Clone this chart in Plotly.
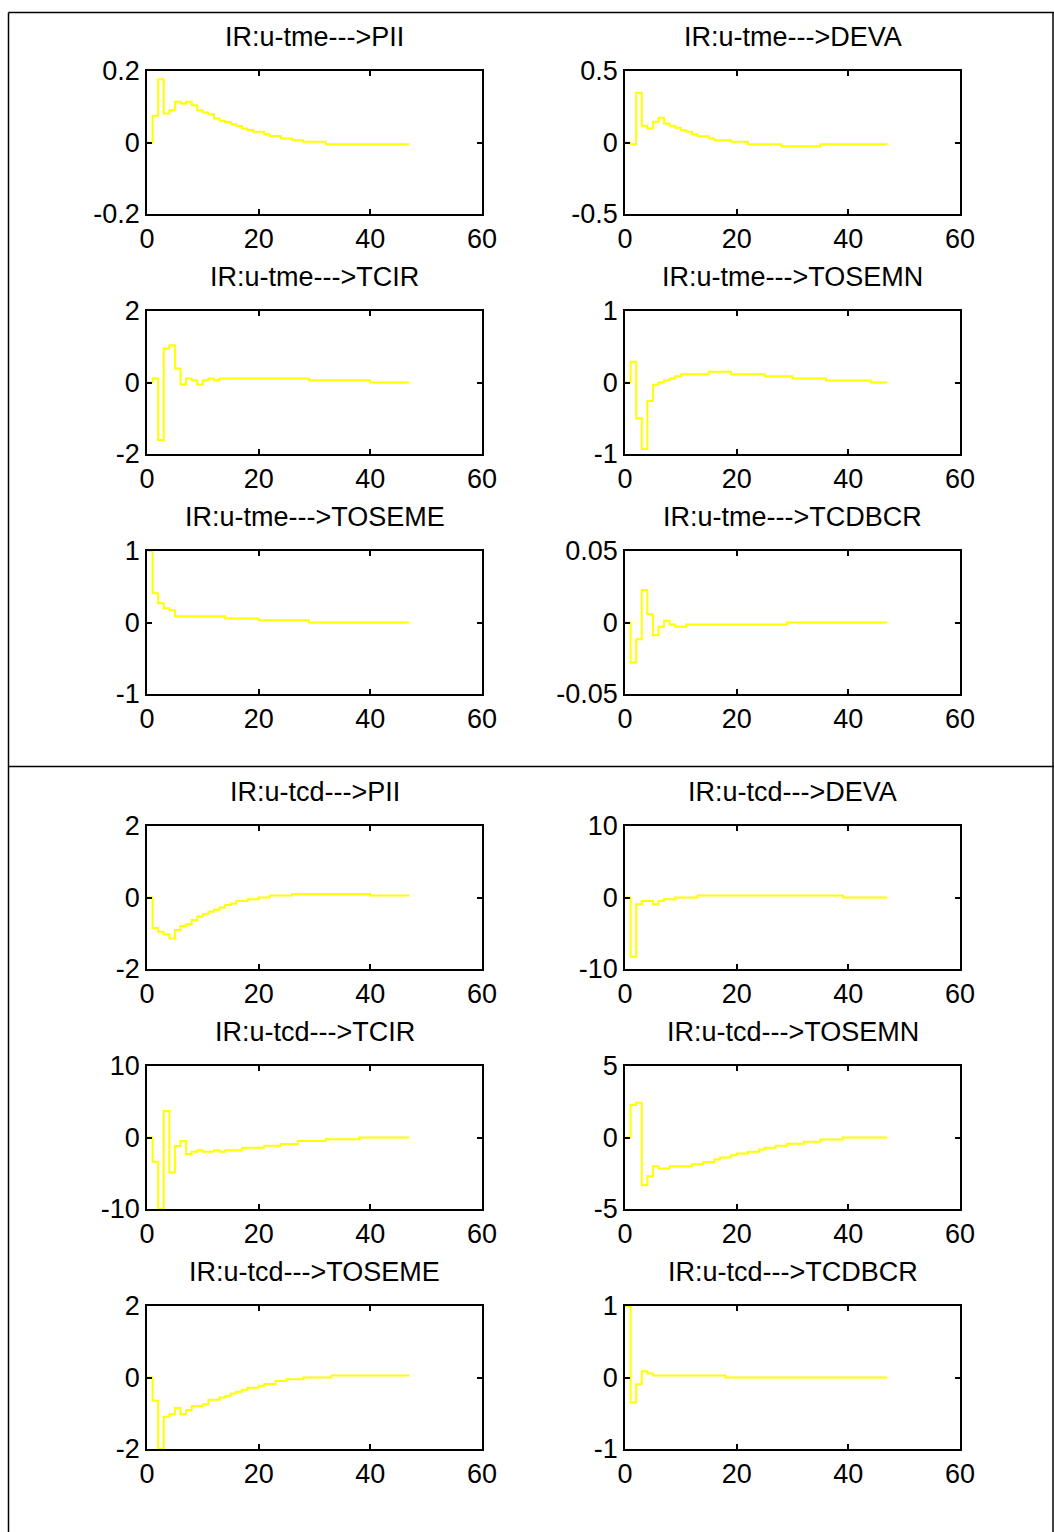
import plotly.graph_objects as go

W, H = 1054, 1532

periods = list(range(48))

pii_tme = [0, 0.075, 0.177, 0.081, 0.090, 0.114, 0.109, 0.114, 0.104, 0.090,
           0.084, 0.079, 0.067, 0.061, 0.057, 0.051, 0.046, 0.039, 0.035, 0.030,
           0.030, 0.023, 0.018, 0.018, 0.011, 0.011, 0.0065, 0.0065, 0.002, 0.002,
           0.002, 0.002, -0.005, -0.005, -0.005, -0.005, -0.005, -0.005, -0.005, -0.005,
           -0.005, -0.005, -0.005, -0.005, -0.005, -0.005, -0.005, -0.005]
deva_tme = [0, -0.012, 0.348, 0.117, 0.098, 0.145, 0.173, 0.133, 0.117, 0.103,
            0.086, 0.075, 0.058, 0.044, 0.044, 0.028, 0.016, 0.016, 0.016, 0.005,
            0.005, 0.005, -0.012, -0.012, -0.012, -0.012, -0.012, -0.012, -0.026, -0.026,
            -0.026, -0.026, -0.026, -0.026, -0.026, -0.012, -0.012, -0.012, -0.012, -0.012,
            -0.012, -0.012, -0.012, -0.012, -0.012, -0.012, -0.012, -0.012]
tcir_tme = [0, 0.11, -1.61, 0.95, 1.04, 0.39, -0.056, 0.11, 0.065, -0.056,
            0.065, 0.11, 0.065, 0.11, 0.11, 0.11, 0.11, 0.11, 0.11, 0.11,
            0.11, 0.11, 0.11, 0.11, 0.11, 0.11, 0.11, 0.11, 0.11, 0.065,
            0.065, 0.065, 0.065, 0.065, 0.065, 0.065, 0.065, 0.065, 0.065, 0.065,
            0, 0, 0, 0, 0, 0, 0, 0]
tosemn_tme = [0, 0.29, -0.50, -0.93, -0.26, -0.03, 0.0, 0.03, 0.056, 0.089,
              0.117, 0.117, 0.117, 0.117, 0.117, 0.15, 0.15, 0.15, 0.15, 0.117,
              0.117, 0.117, 0.117, 0.117, 0.117, 0.089, 0.089, 0.089, 0.089, 0.089,
              0.056, 0.056, 0.056, 0.056, 0.056, 0.056, 0.028, 0.028, 0.028, 0.028,
              0.028, 0.028, 0.028, 0.028, 0, 0, 0, 0]
toseme_tme = [1.0, 0.41, 0.27, 0.20, 0.17, 0.089, 0.089, 0.089, 0.089, 0.089,
              0.089, 0.089, 0.089, 0.089, 0.056, 0.056, 0.056, 0.056, 0.056, 0.056,
              0.033, 0.033, 0.033, 0.033, 0.033, 0.033, 0.033, 0.033, 0.033, 0,
              0, 0, 0, 0, 0, 0, 0, 0, 0, 0,
              0, 0, 0, 0, 0, 0, 0, 0]
tcdbcr_tme = [0, -0.028, -0.0117, 0.0227, 0.0058, -0.0089, -0.003, 0.0012, -0.0014, -0.003,
              -0.003, -0.0014, -0.0014, -0.0014, -0.0014, -0.0014, -0.0014, -0.0014, -0.0014, -0.0014,
              -0.0014, -0.0014, -0.0014, -0.0014, -0.0014, -0.0014, -0.0014, -0.0014, -0.0014, 0,
              0, 0, 0, 0, 0, 0, 0, 0, 0, 0,
              0, 0, 0, 0, 0, 0, 0, 0]
pii_tcd = [0, -0.85, -0.96, -1.03, -1.15, -0.91, -0.80, -0.75, -0.63, -0.53,
           -0.47, -0.40, -0.34, -0.28, -0.21, -0.17, -0.10, -0.10, -0.05, -0.05,
           0, 0, 0.056, 0.056, 0.056, 0.056, 0.10, 0.10, 0.10, 0.10,
           0.10, 0.10, 0.10, 0.10, 0.10, 0.10, 0.10, 0.10, 0.10, 0.10,
           0.056, 0.056, 0.056, 0.056, 0.056, 0.056, 0.056, 0.056]
deva_tcd = [0, -8.3, -0.93, -0.5, -0.5, -0.93, -0.5, -0.23, -0.23, 0,
            0, 0, 0, 0.28, 0.28, 0.28, 0.28, 0.28, 0.28, 0.28,
            0.28, 0.28, 0.28, 0.28, 0.28, 0.28, 0.28, 0.28, 0.28, 0.28,
            0.28, 0.28, 0.28, 0.28, 0.28, 0.28, 0.28, 0.28, 0.28, 0,
            0, 0, 0, 0, 0, 0, 0, 0]
tcir_tcd = [0, -3.4, -10.0, 3.7, -4.9, -1.2, -0.5, -2.3, -2.0, -1.8,
            -2.0, -2.0, -1.8, -2.0, -1.8, -1.8, -1.8, -1.45, -1.45, -1.45,
            -1.45, -1.17, -1.17, -1.17, -0.9, -0.9, -0.9, -0.5, -0.5, -0.5,
            -0.5, -0.5, -0.23, -0.23, -0.23, -0.23, -0.23, -0.23, 0, 0,
            0, 0, 0, 0, 0, 0, 0, 0]
tosemn_tcd = [0, 2.27, 2.43, -3.34, -2.71, -2.01, -2.17, -2.17, -2.01, -2.01,
              -2.01, -2.01, -1.87, -1.87, -1.71, -1.71, -1.54, -1.40, -1.40, -1.24,
              -1.12, -1.12, -1.0, -1.0, -0.84, -0.72, -0.72, -0.58, -0.58, -0.44,
              -0.44, -0.44, -0.30, -0.30, -0.30, -0.14, -0.14, -0.14, -0.14, 0,
              0, 0, 0, 0, 0, 0, 0, 0]
toseme_tcd = [0, -0.65, -2.0, -1.10, -1.03, -0.85, -1.03, -0.91, -0.80, -0.80,
              -0.75, -0.62, -0.62, -0.56, -0.51, -0.45, -0.40, -0.34, -0.29, -0.29,
              -0.23, -0.18, -0.18, -0.10, -0.10, -0.05, -0.05, -0.05, 0, 0,
              0, 0, 0, 0.056, 0.056, 0.056, 0.056, 0.056, 0.056, 0.056,
              0.056, 0.056, 0.056, 0.056, 0.056, 0.056, 0.056, 0.056]
tcdbcr_tcd = [1.0, -0.35, -0.093, 0.089, 0.056, 0.028, 0.028, 0.028, 0.028, 0.028,
              0.028, 0.028, 0.028, 0.028, 0.028, 0.028, 0.028, 0.028, 0, 0,
              0, 0, 0, 0, 0, 0, 0, 0, 0, 0,
              0, 0, 0, 0, 0, 0, 0, 0, 0, 0,
              0, 0, 0, 0, 0, 0, 0, 0]

titles = ["IR:u-tme--->PII", "IR:u-tme--->DEVA",
          "IR:u-tme--->TCIR", "IR:u-tme--->TOSEMN",
          "IR:u-tme--->TOSEME", "IR:u-tme--->TCDBCR",
          "IR:u-tcd--->PII", "IR:u-tcd--->DEVA",
          "IR:u-tcd--->TCIR", "IR:u-tcd--->TOSEMN",
          "IR:u-tcd--->TOSEME", "IR:u-tcd--->TCDBCR"]
series = [pii_tme, deva_tme, tcir_tme, tosemn_tme, toseme_tme, tcdbcr_tme,
          pii_tcd, deva_tcd, tcir_tcd, tosemn_tcd, toseme_tcd, tcdbcr_tcd]
ylims = [0.2, 0.5, 2, 1, 1, 0.05, 2, 10, 10, 5, 2, 1]
ylabels = [["-0.2", "0", "0.2"], ["-0.5", "0", "0.5"],
           ["-2", "0", "2"], ["-1", "0", "1"],
           ["-1", "0", "1"], ["-0.05", "0", "0.05"],
           ["-2", "0", "2"], ["-10", "0", "10"],
           ["-10", "0", "10"], ["-5", "0", "5"],
           ["-2", "0", "2"], ["-1", "0", "1"]]
xticks = [0, 20, 40, 60]
xlabels = ["0", "20", "40", "60"]

# layout geometry (pixels)
col_x = [(147, 482), (625, 960)]
row_y = [(71, 214), (311, 454), (551, 694), (826, 969), (1066, 1209), (1306, 1449)]

FONT = "Liberation Sans, Arial, sans-serif"
FS = 27

fig = go.Figure()
annotations = []
for i in range(12):
    r, c = divmod(i, 2)
    x0, x1 = col_x[c]
    y0, y1 = row_y[r]
    n = i + 1
    xa = "xaxis" if n == 1 else f"xaxis{n}"
    ya = "yaxis" if n == 1 else f"yaxis{n}"
    xr = "x" if n == 1 else f"x{n}"
    yr = "y" if n == 1 else f"y{n}"
    fig.add_trace(go.Scatter(x=periods, y=series[i], mode="lines",
                             line=dict(color="#FFFF00", width=2, shape="hv"),
                             xaxis=xr, yaxis=yr, showlegend=False, hoverinfo="skip"))
    m = ylims[i]
    common = dict(showline=True, linecolor="black", linewidth=1.5, mirror="ticks",
                  ticks="inside", ticklen=5, tickwidth=1.5, tickcolor="black",
                  showgrid=False, zeroline=False, automargin=False,
                  tickfont=dict(family=FONT, size=FS, color="black"))
    fig.layout[xa] = dict(domain=[x0 / W, x1 / W], anchor=yr, range=[0, 60],
                          tickvals=xticks, ticktext=xlabels, **common)
    fig.layout[ya] = dict(domain=[1 - y1 / H, 1 - y0 / H], anchor=xr, range=[-m, m],
                          tickvals=[-m, 0, m], ticktext=ylabels[i], **common)
    annotations.append(dict(text=titles[i], x=(x0 + x1) / 2 / W, y=1 - (y0 - 34) / H,
                            xref="paper", yref="paper", showarrow=False,
                            xanchor="center", yanchor="middle",
                            font=dict(family=FONT, size=FS, color="black")))

shapes = [
    dict(type="line", xref="paper", yref="paper", x0=8.5 / W, x1=1, y0=1 - 12.5 / H, y1=1 - 12.5 / H,
         line=dict(color="black", width=1.5)),
    dict(type="line", xref="paper", yref="paper", x0=8.5 / W, x1=8.5 / W, y0=0, y1=1 - 12.5 / H,
         line=dict(color="black", width=1.5)),
    dict(type="line", xref="paper", yref="paper", x0=1053 / W, x1=1053 / W, y0=0, y1=1 - 12.5 / H,
         line=dict(color="black", width=1.5)),
    dict(type="line", xref="paper", yref="paper", x0=8.5 / W, x1=1, y0=1 - 766.5 / H, y1=1 - 766.5 / H,
         line=dict(color="black", width=1.5)),
]

fig.update_layout(template="none", width=W, height=H, autosize=False,
                  margin=dict(l=0, r=0, t=0, b=0, pad=0),
                  paper_bgcolor="white", plot_bgcolor="white",
                  annotations=annotations, shapes=shapes,
                  font=dict(family=FONT, size=FS, color="black"))

fig.write_html("out.html")
